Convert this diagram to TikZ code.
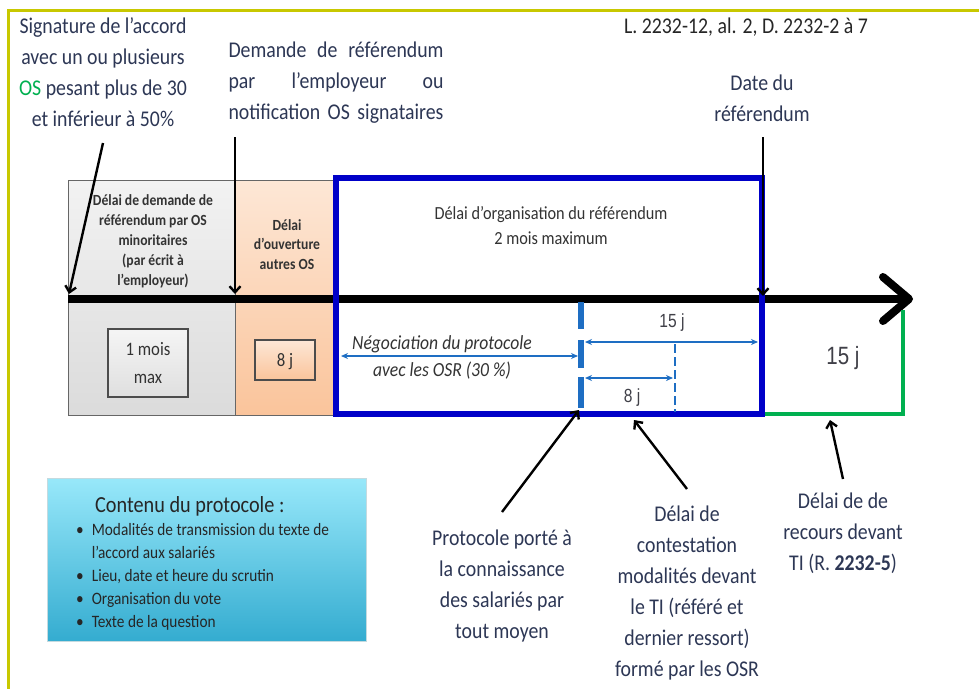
\documentclass[tikz,border=0pt]{standalone}
\usepackage{fontspec}
\setmainfont{Carlito}[FakeStretch=0.88]
\newfontfamily\narrowf[FakeStretch=0.82]{Liberation Sans}
\usetikzlibrary{arrows.meta}
\definecolor{framec}{RGB}{200,200,0}
\definecolor{labc}{RGB}{45,55,85}
\definecolor{osgreen}{RGB}{0,176,80}
\definecolor{boxblue}{RGB}{0,0,200}
\definecolor{tickc}{RGB}{30,110,195}
\definecolor{greenc}{RGB}{0,176,80}
\definecolor{orTop}{RGB}{253,231,214}
\definecolor{orBot}{RGB}{250,196,155}
\definecolor{cyTop}{RGB}{152,232,250}
\definecolor{cyBot}{RGB}{52,172,208}
\definecolor{numc}{RGB}{64,64,72}
\begin{document}
\begin{tikzpicture}[x=1pt,y=-1pt,
  lab/.style={font=\fontsize{22.5}{31}\selectfont, text=labc, align=center, inner sep=0pt, anchor=base},
  boxt/.style={font=\fontsize{15.5}{20}\selectfont\bfseries, text=black!80, align=center, inner sep=0pt, anchor=base},
  callout/.style={line width=2.4pt, -{Straight Barb[length=6pt,width=11pt]}},
  dimarrow/.style={tickc, line width=1.6pt, {Stealth[length=7pt,width=6pt]}-{Stealth[length=7pt,width=6pt]}},
  inbox/.style={draw=black!70, line width=1.5pt, inner sep=0pt},
  inboxt/.style={inner sep=0pt, align=center, anchor=base, font=\fontsize{19}{28}\selectfont, text=black!80},
  numt/.style={font=\narrowf\fontsize{19}{20}\selectfont, text=numc, inner sep=0pt, anchor=base}
]
\useasboundingbox (0,0) rectangle (979,688);
\fill[white] (0,0) rectangle (979,688);
\draw[framec, line width=3pt] (8,690) -- (8,10) -- (981,10);

% boxes
\path[draw=black!60, line width=1pt, top color=gray!10, bottom color=gray!28] (68,180) rectangle (235,415);
\path[draw=black!60, line width=1pt, top color=orTop, bottom color=orBot] (235,180) rectangle (338,415);
\path[draw=cyTop!70!black!40, line width=1pt, top color=cyTop, bottom color=cyBot] (47,478) rectangle (366,641);

% timeline
\coordinate (tlA) at (68,299);
\coordinate (tlB) at (913,299);
\draw[line width=8pt, -{Straight Barb[length=26pt,width=44pt,round]}] (tlA) -- (tlB);

% green bracket
\draw[greenc, line width=4pt] (763,414) -| (903,310);

% blue box
\draw[boxblue, line width=6pt] (336,178) rectangle (762,414);

% tick
\draw[tickc, line width=6pt] (581,302)--(581,329) (581,340)--(581,368) (581,377)--(581,408);

% dimension arrows
\draw[dimarrow] (341,356) -- (578,356);
\draw[dimarrow] (585,342) -- (758,342);
\draw[dimarrow] (585,378) -- (673,378);
\draw[tickc, line width=2.5pt, dash pattern=on 9pt off 4pt] (675,344) -- (675,412);

% inner boxes
\node[inbox, top color=gray!8, bottom color=gray!25, minimum width=80pt, minimum height=68pt] (mois) at (148,363) {};
\node[inboxt] (moist) at (148,383) {1 mois\\max};
\node[inbox, top color=orTop, bottom color=orBot, minimum width=60pt, minimum height=40pt] (huitj) at (285,360) {};
\node[inboxt] (huitjt) at (285,366) {8 j};

% box texts
\node[boxt] (graytxt) at (153,285) {Délai de demande de\\référendum par OS\\minoritaires\\(par écrit à\\l’employeur)};
\node[boxt, font=\fontsize{15.5}{19.5}\selectfont\bfseries] (ortxt) at (287,269) {Délai\\d’ouverture\\autres OS};
\node[inner sep=0pt, align=center, anchor=base, font=\fontsize{18.5}{25}\selectfont, text=black!80] (orgtxt) at (551,244) {Délai d’organisation du référendum\\2 mois maximum};
\node[inner sep=0pt, align=center, anchor=base, font=\fontsize{20}{27}\selectfont\itshape, text=black!80] (negtxt) at (442,376) {Négociation du protocole\\avec les OSR (30 \%)};

\node[numt] (q1) at (672,327) {15 j};
\node[numt] (q2) at (632,402) {8 j};
\node[numt, font=\narrowf\fontsize{25}{26}\selectfont] (q3) at (843,364) {15 j};

% top labels
\node[lab] (sig) at (103,126) {Signature de l’accord\\avec un ou plusieurs\\\textcolor{osgreen}{OS} pesant plus de 30\\et inférieur à 50\%};
\node[lab, align=left] (dem) at (336,119) {\makebox[215pt][s]{Demande de référendum}\\\makebox[215pt][s]{par l’employeur ou}\\\makebox[215pt][s]{notification OS signataires}};
\node[lab, text=black!85] (ref) at (746,33) {L. 2232-12, al. 2, D. 2232-2 à 7};
\node[lab] (date) at (762,121) {Date du\\référendum};

% bottom labels
\node[lab] (prot) at (502,638) {Protocole porté à\\la connaissance\\des salariés par\\tout moyen};
\node[lab] (cont) at (687,676) {Délai de\\contestation\\modalités devant\\le TI (référé et\\dernier ressort)\\formé par les OSR};
\node[lab] (rec) at (843,570) {Délai de de\\recours devant\\TI (R. \textbf{2232-5})};

% protocol content
\node[inner sep=0pt, anchor=base west, font=\fontsize{23}{26}\selectfont, text=black!85] (ctitle) at (95,512) {Contenu du protocole :};
\node[inner sep=0pt, anchor=base west, font=\fontsize{17.4}{23}\selectfont, text=black!85] (clist) at (76,535) {%
\begin{tabular}[t]{@{}l@{\hspace{8pt}}l@{}}
• & Modalités de transmission du texte de\\
  & l’accord aux salariés\\
• & Lieu, date et heure du scrutin\\
• & Organisation du vote\\
• & Texte de la question
\end{tabular}};

% callout arrows
\coordinate (sigS) at (103,143); \coordinate (sigE) at (69,294);
\coordinate (demS) at (235,137); \coordinate (demE) at (235,294);
\coordinate (dateS) at (763,137); \coordinate (dateE) at (763,296);
\coordinate (protS) at (502,512); \coordinate (protE) at (579,410);
\coordinate (contS) at (687,489); \coordinate (contE) at (634,420);
\coordinate (recS) at (843,479); \coordinate (recE) at (830,420);
\draw[callout] (sigS) -- (sigE);
\draw[callout] (demS) -- (demE);
\draw[callout] (dateS) -- (dateE);
\draw[callout] (protS) -- (protE);
\draw[callout] (contS) -- (contE);
\draw[callout] (recS) -- (recE);
\end{tikzpicture}
\end{document}
